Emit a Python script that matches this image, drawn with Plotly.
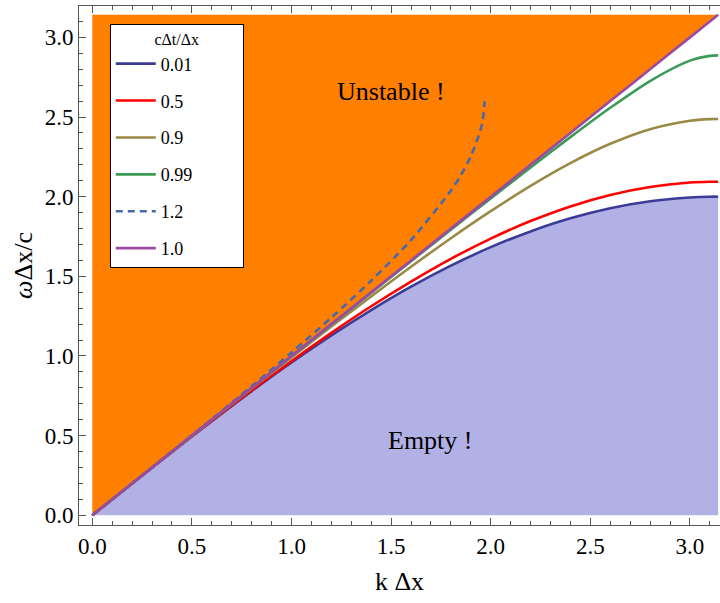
import plotly.graph_objects as go

# Numerical dispersion of the 1D Yee scheme: omega*dx/c versus k*dx
# for several Courant numbers c*dt/dx.
K_MAX = 3.1416

K = [0.0, 0.2, 0.4, 0.6, 0.8, 1.0, 1.2, 1.4, 1.6, 1.8, 2.0,
     2.2, 2.4, 2.6, 2.8, 3.0, 3.1, K_MAX]

W_001 = [0.000, 0.200, 0.397, 0.591, 0.779, 0.959, 1.129, 1.288, 1.435,
         1.567, 1.683, 1.782, 1.864, 1.927, 1.971, 1.995, 2.000, 2.000]
W_05 = [0.000, 0.200, 0.398, 0.593, 0.784, 0.968, 1.145, 1.312, 1.467,
        1.610, 1.737, 1.847, 1.939, 2.011, 2.061, 2.089, 2.094, 2.094]
W_09 = [0.000, 0.200, 0.399, 0.598, 0.796, 0.991, 1.185, 1.374, 1.560,
        1.739, 1.909, 2.068, 2.211, 2.332, 2.424, 2.477, 2.487, 2.488]
W_099 = [0.000, 0.200, 0.400, 0.600, 0.800, 0.999, 1.198, 1.397, 1.595,
         1.793, 1.989, 2.183, 2.374, 2.558, 2.726, 2.854, 2.884, 2.887]
W_10 = [0.0, 0.2, 0.4, 0.6, 0.8, 1.0, 1.2, 1.4, 1.6, 1.8, 2.0,
        2.2, 2.4, 2.6, 2.8, 3.0, 3.1, K_MAX]

# Courant number 1.2 only has a real branch up to the cutoff near k*dx = 1.97
K_12 = [0.0, 0.2, 0.4, 0.6, 0.8, 1.0, 1.2, 1.4, 1.6, 1.8, 1.85, 1.9,
        1.95, 1.96, 1.97]
W_12 = [0.000, 0.200, 0.401, 0.604, 0.810, 1.022, 1.241, 1.473, 1.728,
        2.038, 2.135, 2.253, 2.424, 2.480, 2.598]

LABELS = ["0.01", "0.5", "0.9", "0.99", "1.2", "1.0"]
TICKS = [0.0, 0.5, 1.0, 1.5, 2.0, 2.5, 3.0]
TICK_TEXT = ["0.0", "0.5", "1.0", "1.5", "2.0", "2.5", "3.0"]

SERIF = "Liberation Serif, Times New Roman, serif"
ORANGE = "#FF7F00"
LAVENDER = "#B1B1E5"
COLORS = ["#3C3C98", "#FF0000", "#9A8A46", "#3A9A56", "#4668AC", "#9A4AA2"]

fig = go.Figure()

# Unstable region: everything above the light line omega = k
fig.add_trace(go.Scatter(
    x=[K[0], K[0], K[-1], K[0]], y=[W_10[0], W_10[-1], W_10[-1], W_10[0]],
    fill="toself", fillcolor=ORANGE, line=dict(width=0),
    mode="lines", showlegend=False, hoverinfo="skip"))

# Region below the smallest Courant number curve holds no modes
fig.add_trace(go.Scatter(
    x=K, y=W_001, fill="tozeroy", fillcolor=LAVENDER, mode="lines",
    line=dict(width=0, shape="spline", smoothing=0.8),
    showlegend=False, hoverinfo="skip"))

pad = "\u00a0" * 10
series = [
    (K, W_001, "solid"),
    (K, W_05, "solid"),
    (K, W_09, "solid"),
    (K, W_099, "solid"),
    (K_12, W_12, "7px,5px"),
    (K, W_10, "solid"),
]
for (xs, ys, dash), name, color in zip(series, LABELS, COLORS):
    fig.add_trace(go.Scatter(
        x=xs, y=ys, mode="lines", name=name + pad, legendgroup=name,
        line=dict(color=color, width=2.6, dash=dash, shape="spline",
                  smoothing=0.8)))

fig.add_annotation(x=1.5, y=2.66, text="Unstable !", showarrow=False,
                   font=dict(family=SERIF, size=26, color="black"))
fig.add_annotation(x=1.70, y=0.47, text="Empty !", showarrow=False,
                   font=dict(family=SERIF, size=26, color="black"))

axis_common = dict(
    showgrid=False, zeroline=False, showline=True, linecolor="#555555",
    linewidth=1, ticks="inside", ticklen=7, tickwidth=1, tickcolor="#555555",
    tickvals=TICKS, ticktext=TICK_TEXT,
    tickfont=dict(family=SERIF, size=23, color="black"),
    minor=dict(dtick=0.1, tick0=0, ticks="inside", ticklen=4,
               tickcolor="#555555", showgrid=False),
)

fig.update_layout(
    width=720, height=603,
    margin=dict(l=79, r=0, t=6, b=78),
    paper_bgcolor="white", plot_bgcolor="white",
    font=dict(family=SERIF, color="black"),
    xaxis=dict(range=[-0.0668, 3.151], mirror="ticks",
               title=dict(text="k Δx", font=dict(family=SERIF, size=26),
                          standoff=14),
               **axis_common),
    yaxis=dict(range=[-0.061, 3.197], mirror=False,
               title=dict(text="<i>ω</i>Δx/c",
                          font=dict(family=SERIF, size=26), standoff=4),
               **axis_common),
    legend=dict(
        x=0.048, y=0.966, xanchor="left", yanchor="top",
        bgcolor="white", bordercolor="black", borderwidth=1,
        font=dict(family=SERIF, size=18, color="black"),
        title=dict(text="cΔt/Δx", side="top center",
                   font=dict(family=SERIF, size=16)),
        tracegroupgap=10.5, itemwidth=40, traceorder="grouped",
    ),
    showlegend=True,
)

fig.write_html("out.html")
